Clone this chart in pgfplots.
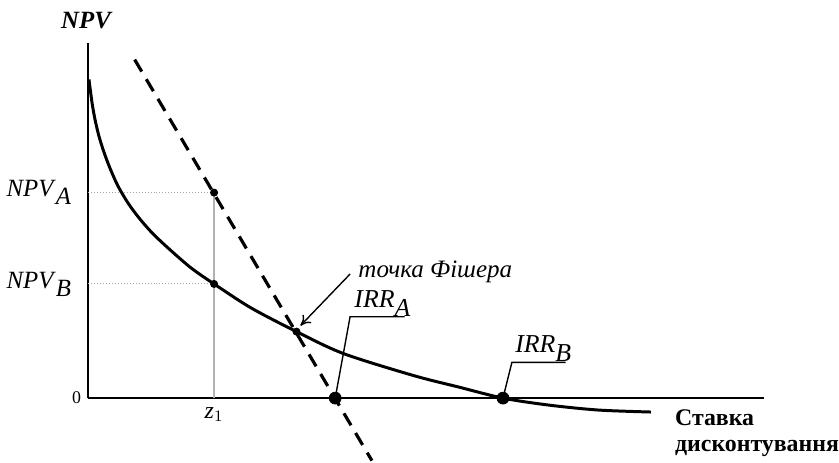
\documentclass[border=0pt]{standalone}
\usepackage{fontspec}
\setmainfont{Liberation Serif}
\usepackage{pgfplots}
\pgfplotsset{compat=1.18}
\usetikzlibrary{arrows.meta}

\begin{document}
\begin{tikzpicture}
\begin{axis}[
    x=0.5pt, y=0.5pt,
    xmin=0, xmax=681, ymin=0, ymax=358,
    axis lines=left,
    axis line style={-, line width=1pt},
    clip=false,
    major tick length=0pt,
    xtick={127}, xticklabels={\fontsize{12}{14}\selectfont\textit{z}$_1$},
    xticklabel style={yshift=-1pt},
    ytick={0}, yticklabels={\fontsize{9}{11}\selectfont 0},
    extra y ticks={115,207},
    extra y tick labels={\fontsize{12.5}{15}\selectfont\textit{NPV}$_{\textit{B}}$,
                         \fontsize{12.5}{15}\selectfont\textit{NPV}$_{\textit{A}}$},
    extra y tick style={yticklabel style={xshift=-4.5pt}},
]
% guide lines to z1
\addplot[gray!70, line width=0.5pt, densely dotted] coordinates {(0,207) (127,207)};
\addplot[gray!70, line width=0.5pt, densely dotted] coordinates {(0,115) (127,115)};
\addplot[gray!60, line width=0.6pt] coordinates {(127,0) (127,207)};

% project B (curve)
\addplot[black, line width=1.5pt, smooth] coordinates {
  (1,321) (4,298) (7,281) (11,264) (16,248) (22,232) (30,214) (40,197)
  (51,182) (65,166) (82,150) (104,131) (127,115) (164,91) (210,67)
  (257,45) (327,23) (374,11) (418,0) (464,-7) (514,-12) (567,-14)
};
% project A (straight dashed line)
\addplot[black, line width=1.6pt, dash pattern=on 7pt off 4.5pt] coordinates {(47,341) (286,-63)};

% points
\addplot[only marks, mark=*, mark size=1.8pt, black] coordinates {(127,207) (127,115) (210,67)};
\addplot[only marks, mark=*, mark size=3pt, black] coordinates {(249,0) (418,0)};

% callouts
\draw[line width=0.7pt] (axis cs:249,0) -- (axis cs:264,82) -- (axis cs:319,82);
\draw[line width=0.7pt] (axis cs:418,0) -- (axis cs:427,36) -- (axis cs:481,36);
\node[anchor=base west, inner sep=0pt, font=\fontsize{13}{15}\selectfont]
  at (axis cs:268,91) {\textit{IRR}$_{\textit{A}}$};
\node[anchor=base west, inner sep=0pt, font=\fontsize{13}{15}\selectfont]
  at (axis cs:430,46) {\textit{IRR}$_{\textit{B}}$};
\draw[line width=0.7pt, -{To[length=5pt, width=6pt]}] (axis cs:264,125) -- (axis cs:214,73);
\node[anchor=base west, inner sep=0pt, font=\fontsize{12.6}{15}\selectfont\itshape]
  at (axis cs:272,121) {точка Фішера};

% axis titles
\node[anchor=base, inner sep=0pt, font=\fontsize{12.5}{14}\selectfont\bfseries\itshape]
  at (axis cs:-2,372) {NPV};
\node[anchor=base west, inner sep=0pt, font=\fontsize{12}{14}\selectfont\bfseries]
  at (axis cs:591,-28) {Ставка};
\node[anchor=base west, inner sep=0pt, font=\fontsize{12}{14}\selectfont\bfseries]
  at (axis cs:591,-54) {дисконтування};

% page frame (invisible)
\path (axis cs:-86,-64) rectangle (axis cs:753,401);
\end{axis}
\end{tikzpicture}
\end{document}
